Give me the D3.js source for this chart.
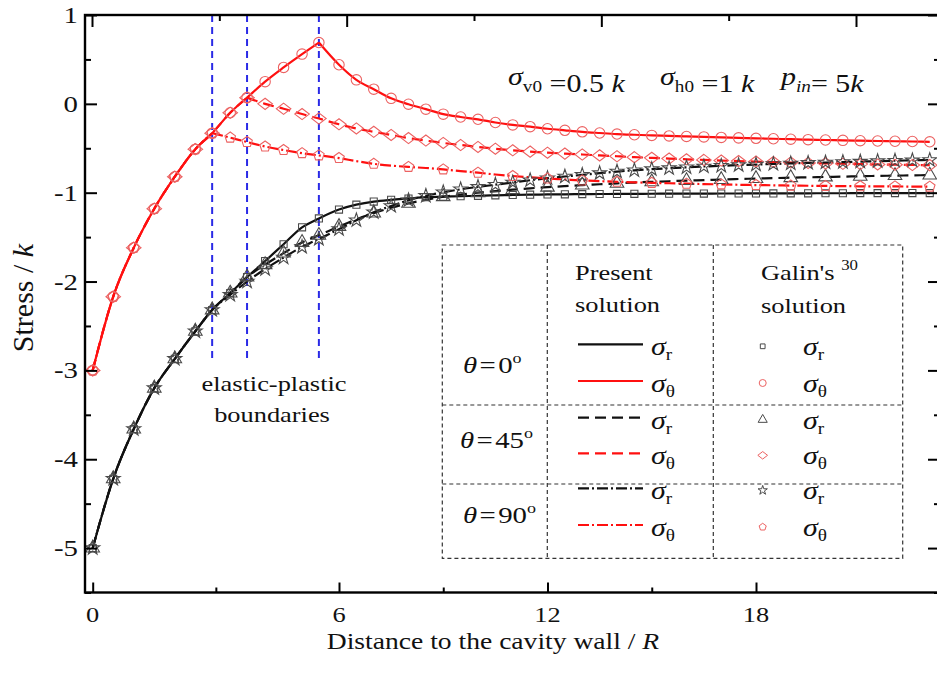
<!DOCTYPE html>
<html>
<head>
<meta charset="utf-8">
<script src="https://cdn.jsdelivr.net/npm/d3@7"></script>
<style>
  body { margin: 0; background: #fff; }
  svg { display: block; }
  text { font-family: "Liberation Serif", "Times New Roman", serif; fill: #111; white-space: pre; }
</style>
</head>
<body>
<div id="main"></div>
<script>
// distance to the cavity wall (r/R units), shared by all curves
const distance = [0, 0.5, 1, 1.5, 2, 2.5, 2.91, 3.35, 3.76, 4.2, 4.65, 5.1, 5.51,
  6, 6.5, 7, 7.5, 8, 8.5, 9, 9.5, 10, 10.5, 11, 11.5, 12, 12.5, 13, 13.5, 14, 14.5,
  15, 15.5, 16, 16.5, 17, 17.5, 18, 18.5, 19, 19.5, 20, 20.5, 21, 21.5, 22, 22.5, 23];

// theta = 0
const sigmaR0 = [-5.0, -4.22, -3.66, -3.20, -2.87, -2.56, -2.32, -2.13, -1.95, -1.77, -1.58, -1.39, -1.29,
  -1.19, -1.135, -1.10, -1.08, -1.065, -1.05, -1.045, -1.04, -1.035, -1.03, -1.026, -1.022, -1.02, -1.018,
  -1.016, -1.015, -1.014, -1.013, -1.012, -1.011, -1.01, -1.01, -1.009, -1.009, -1.008, -1.008, -1.007,
  -1.007, -1.006, -1.006, -1.005, -1.005, -1.005, -1.004, -1.004];
const sigmaT0 = [-3.0, -2.17, -1.62, -1.18, -0.82, -0.51, -0.33, -0.10, 0.07, 0.25, 0.41, 0.56, 0.69,
  0.44, 0.27, 0.165, 0.062, -0.004, -0.06, -0.116, -0.148, -0.174, -0.21, -0.237, -0.257, -0.28, -0.298,
  -0.315, -0.328, -0.34, -0.348, -0.355, -0.361, -0.367, -0.372, -0.378, -0.383, -0.388, -0.393, -0.398,
  -0.403, -0.407, -0.411, -0.415, -0.418, -0.421, -0.424, -0.427];

// theta = 45
const sigmaR45 = [-5.0, -4.22, -3.66, -3.20, -2.87, -2.56, -2.32, -2.13, -1.95, -1.81, -1.68, -1.56, -1.48,
  -1.38, -1.30, -1.23, -1.17, -1.12, -1.08, -1.045, -1.02, -1.00, -0.982, -0.966, -0.951, -0.938, -0.926,
  -0.915, -0.905, -0.895, -0.886, -0.878, -0.871, -0.864, -0.858, -0.852, -0.846, -0.841, -0.836, -0.831,
  -0.827, -0.823, -0.819, -0.815, -0.811, -0.808, -0.805, -0.802];
const sigmaT45 = [-3.0, -2.17, -1.62, -1.18, -0.82, -0.51, -0.33, -0.10, 0.07, 0.0, -0.055, -0.115, -0.165,
  -0.23, -0.277, -0.315, -0.35, -0.385, -0.413, -0.44, -0.463, -0.485, -0.505, -0.523, -0.538, -0.55, -0.56,
  -0.57, -0.58, -0.59, -0.60, -0.608, -0.616, -0.624, -0.631, -0.638, -0.644, -0.65, -0.655, -0.66,
  -0.665, -0.67, -0.674, -0.678, -0.682, -0.685, -0.688, -0.69];

// theta = 90
const sigmaR90 = [-5.0, -4.22, -3.66, -3.20, -2.87, -2.56, -2.32, -2.15, -2.00, -1.86, -1.73, -1.61, -1.52,
  -1.41, -1.31, -1.22, -1.15, -1.085, -1.035, -0.995, -0.962, -0.935, -0.91, -0.885, -0.86, -0.837, -0.818,
  -0.80, -0.78, -0.762, -0.748, -0.735, -0.724, -0.714, -0.705, -0.697, -0.69, -0.683, -0.677, -0.671,
  -0.665, -0.66, -0.655, -0.65, -0.645, -0.64, -0.636, -0.632];
const sigmaT90 = [-3.0, -2.17, -1.62, -1.18, -0.82, -0.51, -0.33, -0.38, -0.43, -0.48, -0.52, -0.555, -0.58,
  -0.61, -0.645, -0.675, -0.695, -0.71, -0.722, -0.738, -0.757, -0.775, -0.795, -0.812, -0.827, -0.84, -0.851,
  -0.862, -0.87, -0.877, -0.883, -0.889, -0.894, -0.899, -0.903, -0.907, -0.911, -0.914, -0.917, -0.92,
  -0.922, -0.924, -0.926, -0.928, -0.929, -0.93, -0.931, -0.932];

// elastic-plastic boundaries for theta = 90, 45, 0
const boundaries = [2.91, 3.76, 5.51];
const boundaryLow = -2.86;

const xTickMajor = [0, 6, 12, 18];
const xTickMinor = [3, 9, 15];
const yTickMajor = [-5, -4, -3, -2, -1, 0, 1];
const yTickMinor = [-5.5, -4.5, -3.5, -2.5, -1.5, -0.5, 0.5];
const topTickMajor = [0, 6, 12, 18];
const topTickMinor = [3, 9, 15];

const W = 937, H = 678;
const SX = 1.2; // horizontal stretch of the lettering
const plot = {left: 85, right: 940, top: 15, bottom: 592.5};

const x = d3.scaleLinear().domain([0, 6, 18]).range([92.7, 339, 756]);
const xTop = d3.scaleLinear().domain([0, 18]).range([92, 856]);
const y = d3.scaleLinear().domain([-5.5, 1]).range([plot.bottom, plot.top]);

const RED = '#ff1010', RED_MARK = '#ec6262', BLACK = '#111', BLACK_MARK = '#4a4a4a';

// custom symbols
const symbolWideDiamond = {
  draw(ctx, size) {
    const r = Math.sqrt(size) / 2;
    ctx.moveTo(0, -r); ctx.lineTo(r * 1.3, 0); ctx.lineTo(0, r); ctx.lineTo(-r * 1.3, 0); ctx.closePath();
  }
};
const symbolPentagon = {
  draw(ctx, size) {
    const r = Math.sqrt(size) / 1.8;
    for (let i = 0; i < 5; i++) {
      const a = -Math.PI / 2 + i * 2 * Math.PI / 5;
      if (i === 0) ctx.moveTo(r * Math.cos(a), r * Math.sin(a)); else ctx.lineTo(r * Math.cos(a), r * Math.sin(a));
    }
    ctx.closePath();
  }
};

// sparse: far-field markers only on every other sample
const series = [
  {key: 'r0', values: sigmaR0, color: BLACK, mark: BLACK_MARK, dash: null, symbol: d3.symbolSquare, size: 50, kink: null, sparse: false},
  {key: 't0', values: sigmaT0, color: RED, mark: RED_MARK, dash: null, symbol: d3.symbolCircle, size: 85, kink: 12, sparse: false},
  {key: 'r45', values: sigmaR45, color: BLACK, mark: BLACK_MARK, dash: '11,6', symbol: d3.symbolTriangle, size: 80, kink: null, sparse: true},
  {key: 't45', values: sigmaT45, color: RED, mark: RED_MARK, dash: '11,6', symbol: symbolWideDiamond, size: 125, kink: 8, sparse: false},
  {key: 'r90', values: sigmaR90, color: BLACK, mark: BLACK_MARK, dash: '11,3,2,3', symbol: d3.symbolStar, size: 60, kink: null, sparse: false},
  {key: 't90', values: sigmaT90, color: RED, mark: RED_MARK, dash: '11,3,2,3', symbol: symbolPentagon, size: 100, kink: 6, sparse: true}
];

const svg = d3.select('#main').append('svg').attr('width', W).attr('height', H);
svg.append('rect').attr('width', W).attr('height', H).attr('fill', '#fff');

svg.append('clipPath').attr('id', 'plot-clip')
  .append('rect')
  .attr('x', plot.left).attr('y', plot.top)
  .attr('width', plot.right - plot.left).attr('height', plot.bottom - plot.top);

const stext = (px, py, size, anchor) => svg.append('text')
  .attr('transform', `translate(${px},${py}) scale(${SX},1)`)
  .attr('font-size', size)
  .attr('text-anchor', anchor || 'start');

// boundaries
svg.append('g').attr('clip-path', 'url(#plot-clip)')
  .selectAll('line').data(boundaries).enter().append('line')
  .attr('x1', (d) => x(d)).attr('x2', (d) => x(d))
  .attr('y1', y(1)).attr('y2', y(boundaryLow))
  .attr('stroke', '#2a2ae6').attr('stroke-width', 2).attr('stroke-dasharray', '7,5');

// curves
const line = d3.line().x((d) => x(d[0])).y((d) => y(d[1])).curve(d3.curveMonotoneX);
const curves = svg.append('g').attr('clip-path', 'url(#plot-clip)');
series.forEach((s) => {
  const pts = distance.map((d, i) => [d, s.values[i]]);
  const parts = s.kink === null ? [pts] : [pts.slice(0, s.kink + 1), pts.slice(s.kink)];
  parts.forEach((p) => {
    curves.append('path')
      .attr('d', line(p))
      .attr('fill', 'none')
      .attr('stroke', s.color)
      .attr('stroke-width', 2.2)
      .attr('stroke-dasharray', s.dash);
  });
});

// markers
series.forEach((s) => {
  const pts = distance.map((d, i) => [d, s.values[i]])
    .filter((d, i) => !s.sparse || i < 13 || (i - 13) % 2 === 0);
  curves.append('g').selectAll('path').data(pts).enter().append('path')
    .attr('d', d3.symbol().type(s.symbol).size(s.size))
    .attr('transform', (d) => `translate(${x(d[0])},${y(d[1])})`)
    .attr('fill', 'none')
    .attr('stroke', s.mark)
    .attr('stroke-width', 1.1);
});

// frame and ticks
svg.append('rect')
  .attr('x', plot.left).attr('y', plot.top)
  .attr('width', plot.right - plot.left).attr('height', plot.bottom - plot.top)
  .attr('fill', 'none').attr('stroke', '#000').attr('stroke-width', 2.4);

const tickAxis = (axis, tx, ty) => {
  const g = svg.append('g').attr('transform', `translate(${tx},${ty})`).call(axis);
  g.select('.domain').remove();
  g.selectAll('line').attr('stroke', '#000').attr('stroke-width', 2);
};
tickAxis(d3.axisRight(y).tickValues(yTickMajor).tickSize(12).tickFormat(''), plot.left, 0);
tickAxis(d3.axisRight(y).tickValues(yTickMinor).tickSize(6).tickFormat(''), plot.left, 0);
tickAxis(d3.axisLeft(y).tickValues(yTickMajor).tickSize(12).tickFormat(''), plot.right, 0);
tickAxis(d3.axisLeft(y).tickValues(yTickMinor).tickSize(6).tickFormat(''), plot.right, 0);
tickAxis(d3.axisTop(x).tickValues(xTickMajor).tickSize(10).tickFormat(''), 0, plot.bottom);
tickAxis(d3.axisTop(x).tickValues(xTickMinor).tickSize(5).tickFormat(''), 0, plot.bottom);
tickAxis(d3.axisBottom(xTop).tickValues(topTickMajor).tickSize(12).tickFormat(''), 0, plot.top);
tickAxis(d3.axisBottom(xTop).tickValues(topTickMinor).tickSize(6).tickFormat(''), 0, plot.top);

// tick labels
yTickMajor.forEach((v) => stext(78, y(v) + 8, 24, 'end').text(v));
xTickMajor.forEach((v) => stext(x(v), 622, 22, 'middle').text(v));

// axis titles
const xTitle = stext(493, 649, 23, 'middle');
xTitle.append('tspan').text('Distance to the cavity wall / ');
xTitle.append('tspan').attr('font-style', 'italic').text('R');

const yTitle = svg.append('text')
  .attr('transform', 'translate(33,298) rotate(-90)')
  .attr('font-size', 30).attr('text-anchor', 'middle');
yTitle.append('tspan').text('Stress / ');
yTitle.append('tspan').attr('font-style', 'italic').text('k');

// loading annotation, three pieces
const sub = (t, s, italic) => {
  t.append('tspan').attr('font-size', 16).attr('dy', 7).attr('font-style', italic ? 'italic' : 'normal').text(s);
  t.append('tspan').attr('dy', -7).text('');
};
const n1 = stext(508, 85, 25);
n1.append('tspan').attr('font-style', 'italic').text('σ');
sub(n1, 'v0');
n1.append('tspan').text(' =0.5 ');
n1.append('tspan').attr('font-style', 'italic').text('k');
const n2 = stext(660, 85, 25);
n2.append('tspan').attr('font-style', 'italic').text('σ');
sub(n2, 'h0');
n2.append('tspan').text(' =1 ');
n2.append('tspan').attr('font-style', 'italic').text('k');
const n3 = stext(781, 85, 25);
n3.append('tspan').attr('font-style', 'italic').text('p');
sub(n3, 'in', true);
n3.append('tspan').text('= 5');
n3.append('tspan').attr('font-style', 'italic').text('k');

stext(274, 391, 22, 'middle').text('elastic-plastic');
stext(272, 422, 22, 'middle').text('boundaries');

// legend table
const box = {x0: 442.3, x1: 902.7, y0: 245, y1: 558.3};
const cols = [547.3, 713.3];
const rows = [405, 484];
const legend = svg.append('g').attr('id', 'legend');
const dashed = (sel) => sel.attr('stroke', '#333').attr('stroke-width', 1.2).attr('stroke-dasharray', '4,3').attr('fill', 'none');
dashed(legend.append('rect').attr('x', box.x0).attr('y', box.y0).attr('width', box.x1 - box.x0).attr('height', box.y1 - box.y0));
cols.forEach((c) => dashed(legend.append('line').attr('x1', c).attr('x2', c).attr('y1', box.y0).attr('y2', box.y1)));
rows.forEach((r) => dashed(legend.append('line').attr('x1', box.x0).attr('x2', box.x1).attr('y1', r).attr('y2', r)));

stext(575, 280, 22).text('Present');
stext(575, 312, 22).text('solution');
const galin = stext(761, 280, 22);
galin.append('tspan').text("Galin's ");
galin.append('tspan').attr('font-size', 14).attr('dy', -10).text('30');
stext(761, 313, 22).text('solution');

const thetaLabels = [{text: '0', lx: 463, y: 373}, {text: '45', lx: 460, y: 448}, {text: '90', lx: 463, y: 523}];
thetaLabels.forEach((t) => {
  const lbl = stext(t.lx, t.y, 24);
  lbl.append('tspan').attr('font-style', 'italic').text('θ');
  lbl.append('tspan').attr('dx', 2).text('=');
  lbl.append('tspan').attr('dx', 2).text(t.text);
  lbl.append('tspan').attr('font-size', 15).attr('dy', -10).text('o');
});

const legendRows = [
  {s: series[0], sub: 'r', ly: 344.3},
  {s: series[1], sub: 'θ', ly: 381},
  {s: series[2], sub: 'r', ly: 417.7},
  {s: series[3], sub: 'θ', ly: 453.3},
  {s: series[4], sub: 'r', ly: 488.3},
  {s: series[5], sub: 'θ', ly: 525}
];
legendRows.forEach((r) => {
  legend.append('line')
    .attr('x1', 578).attr('x2', 643).attr('y1', r.ly).attr('y2', r.ly)
    .attr('stroke', r.s.color).attr('stroke-width', 2.2).attr('stroke-dasharray', r.s.dash);
  legend.append('path')
    .attr('d', d3.symbol().type(r.s.symbol).size(r.s.size * 0.45))
    .attr('transform', `translate(762.7,${r.ly + 2})`)
    .attr('fill', 'none').attr('stroke', r.s.mark).attr('stroke-width', 1);
  [651, 803].forEach((lx) => {
    const t = stext(lx, r.ly + 11, 25);
    t.append('tspan').attr('font-style', 'italic').text('σ');
    t.append('tspan').attr('font-size', 16).attr('dy', 5).text(r.sub);
  });
});
</script>
</body>
</html>
